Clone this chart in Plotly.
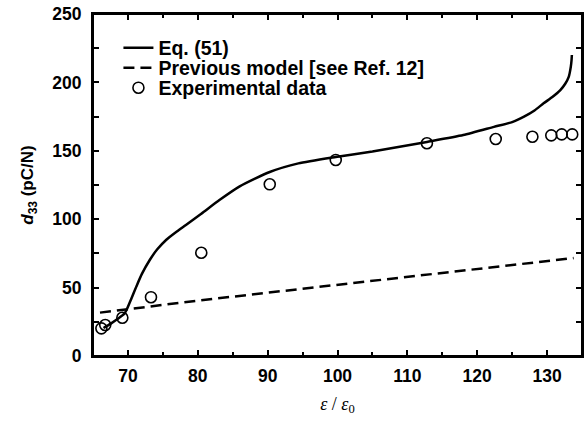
import plotly.graph_objects as go

# Eq. (51) curve
eq_x = [66.5, 67.5, 68.5, 69.5, 69.8, 70.5, 71.2, 72.0, 73.1, 74.2, 75.5, 77.0, 78.3, 80.5, 83.1, 86.0, 90.3, 94.4, 99.75, 105.0, 112.8, 118.0, 122.4, 125.0, 126.7, 128.2, 129.5, 130.8, 131.9, 132.6, 133.1, 133.4, 133.5, 133.55]
eq_y = [20.5, 23.5, 27.0, 31.0, 33.6, 42.0, 50.7, 60.0, 70.0, 78.0, 85.0, 91.0, 95.8, 104.0, 114.0, 124.0, 134.5, 140.8, 145.5, 149.5, 156.5, 161.5, 167.5, 171.0, 175.0, 179.5, 184.7, 189.5, 194.4, 199.0, 204.0, 211.5, 216.0, 220.0]

# Previous model [see Ref. 12]
prev_x = [66.0, 80.0, 94.4, 110.0, 133.8]
prev_y = [31.7, 40.5, 48.8, 57.8, 71.6]

# Experimental data
exp_x = [66.2, 66.75, 69.2, 73.3, 80.5, 90.3, 99.75, 112.8, 122.65, 127.9, 130.6, 132.1, 133.6]
exp_y = [20.2, 22.7, 28.0, 43.0, 75.5, 125.5, 143.3, 155.5, 158.6, 160.3, 161.3, 162.0, 162.0]

FONT = "Liberation Sans, Arial, sans-serif"

fig = go.Figure()
fig.add_trace(go.Scatter(x=eq_x, y=eq_y, mode="lines", name="Eq. (51)", legend="legend",
                         line=dict(color="black", width=2.5, shape="spline", smoothing=0.6)))
fig.add_trace(go.Scatter(x=prev_x, y=prev_y, mode="lines", name="Previous model [see Ref. 12]",
                         legend="legend2", xaxis="x2",
                         line=dict(color="black", width=2.5, dash="11px,6px")))
fig.add_trace(go.Scatter(x=exp_x, y=exp_y, mode="markers", name="Experimental data",
                         legend="legend3",
                         marker=dict(symbol="circle-open", size=11, color="black",
                                     line=dict(width=1.6, color="black"))))

tick_style = dict(showline=True, linecolor="black", linewidth=2,
                  ticks="inside", ticklen=6, tickwidth=2, tickcolor="black",
                  showgrid=False, zeroline=False, automargin=False,
                  ticklabeloverflow="allow",
                  tickfont=dict(family=FONT, size=17.5, color="black", weight="bold"))

fig.update_layout(
    xaxis=dict(range=[65, 135], dtick=10, tick0=70, ticklabelstandoff=3, mirror=True,
               minor=dict(ticks="inside", dtick=5, ticklen=4, tickwidth=2, tickcolor="black"),
               title=dict(text="<i>ε</i> / <i>ε</i><sub>0</sub>",
                          font=dict(family="Liberation Serif, Times New Roman, serif", size=18, color="black"),
                          standoff=12),
               **tick_style),
    xaxis2=dict(matches="x", overlaying="x", side="top", anchor="y",
                range=[65, 135], dtick=10, tick0=70, showticklabels=False,
                minor=dict(ticks="inside", dtick=5, ticklen=4, tickwidth=2, tickcolor="black"),
                **tick_style),
    yaxis=dict(range=[0, 250], dtick=50, ticklabelstandoff=6, mirror="allticks",
               minor=dict(ticks="inside", dtick=25, ticklen=4, tickwidth=2, tickcolor="black"),
               title=dict(text="<b><i>d</i><sub>33</sub> (pC/N)</b>",
                          font=dict(family=FONT, size=17, color="black"),
                          standoff=14),
               **tick_style),
)

legend_common = dict(xanchor="left", yanchor="middle",
                     bgcolor="rgba(0,0,0,0)", borderwidth=0,
                     font=dict(family=FONT, size=19.5, color="black", weight="bold"),
                     itemwidth=30)

fig.update_layout(
    width=584, height=424,
    margin=dict(l=93, r=2, t=14, b=68),
    paper_bgcolor="white", plot_bgcolor="white",
    showlegend=True,
    legend=dict(x=0.052, y=0.9006, **legend_common),
    legend2=dict(x=0.052, y=0.842, **legend_common),
    legend3=dict(x=0.052, y=0.7836, **legend_common),
    shapes=[dict(type="rect", xref="paper", yref="paper", x0=0, x1=1, y0=0, y1=1,
                 line=dict(color="black", width=2), fillcolor="rgba(0,0,0,0)", layer="above")],
)

fig.write_html("out.html", config={"displayModeBar": False},
               post_script="document.body.style.margin='0';document.body.style.overflow='hidden';")
